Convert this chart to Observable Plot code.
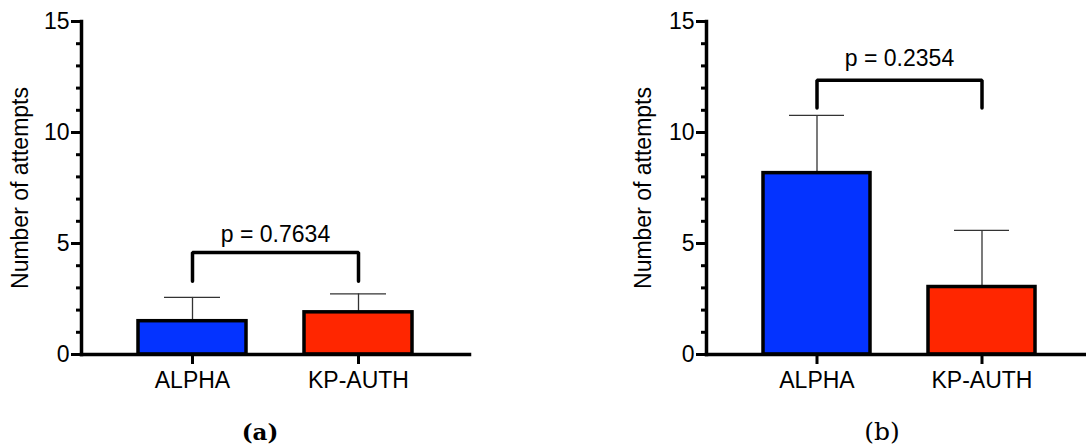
<!DOCTYPE html>
<html>
<head>
<meta charset="utf-8">
<script src="https://cdn.jsdelivr.net/npm/d3@7"></script>
<script src="https://cdn.jsdelivr.net/npm/@observablehq/plot@0.6"></script>
<style>
  html, body { margin: 0; padding: 0; background: #fff; width: 1086px; height: 448px; overflow: hidden; }
  #root { position: relative; width: 1086px; height: 448px; }
  .panel { position: absolute; top: 0; }
  .cap { position: absolute; color: #000; transform: translate(-50%, -50%); white-space: nowrap; line-height: 1; }
</style>
</head>
<body>
<div id="root"></div>
<script>
// ---- data ----
const categories = ["ALPHA", "KP-AUTH"];
const meansA = [1.5, 1.9];
const errorsA = [1.07, 0.83];
const meansB = [8.17, 3.04];
const errorsB = [2.6, 2.55];
const bracketTopA = 4.6, bracketLegA = 3.3, pTextYA = 5.38, pLabelA = "p = 0.7634";
const bracketTopB = 12.35, bracketLegB = 11.1, pTextYB = 13.32, pLabelB = "p = 0.2354";
const yMajorTicks = [0, 5, 10, 15];
const yMinorTicks = d3.range(0, 16);
const yLabel = "Number of attempts";
const colors = ["#0433FF", "#FF2600"];
const captions = ["(a)", "(b)"];

function makePanel(means, errors, bTop, bLeg, pY, pLabel, opts) {
  const rows = categories.map((c, i) => ({cat: c, mean: means[i], top: means[i] + errors[i], color: colors[i]}));
  const bracket = [
    {cat: categories[0], y: bLeg},
    {cat: categories[0], y: bTop},
    {cat: categories[1], y: bTop},
    {cat: categories[1], y: bLeg}
  ];
  return Plot.plot({
    width: opts.width,
    height: 400,
    marginLeft: opts.marginLeft,
    marginRight: opts.marginRight,
    marginTop: 21,
    marginBottom: 46,
    style: {fontFamily: "'Liberation Sans', Arial, sans-serif", fontSize: "23px", color: "#000", background: "transparent", overflow: "visible"},
    x: {domain: categories, paddingInner: 0.35, paddingOuter: 0.34},
    y: {domain: [0, 15]},
    marks: [
      Plot.ruleX(rows, {x: "cat", y1: "mean", y2: "top", stroke: "#333", strokeWidth: 1.3}),
      Plot.tickY(rows, {x: "cat", y: "top", stroke: "#333", strokeWidth: 1.3, insetLeft: 26, insetRight: 26}),
      Plot.barY(rows, {x: "cat", y: "mean", fill: "color", stroke: "#000", strokeWidth: 3.5}),
      Plot.line(bracket, {x: "cat", y: "y", stroke: "#000", strokeWidth: 3.5, strokeLinejoin: "miter", strokeLinecap: "round"}),
      Plot.text([pLabel], {y: () => pY, text: d => d, fontSize: 23, lineAnchor: "middle"}),
      Plot.axisY({ticks: yMinorTicks, tickSize: 5, strokeWidth: 3, tickFormat: () => "", label: null}),
      Plot.axisY({ticks: yMajorTicks, tickSize: 10, tickPadding: 2, strokeWidth: 3, tickFormat: d3.format("d"), label: yLabel, labelAnchor: "center", labelOffset: opts.labelOffset, labelArrow: "none"}),
      Plot.axisX({tickSize: 10, tickPadding: 7, strokeWidth: 3, label: null}),
      Plot.frame({anchor: "left", strokeWidth: 3.5}),
      Plot.frame({anchor: "bottom", strokeWidth: 3.5})
    ]
  });
}

const root = document.getElementById("root");
const pa = makePanel(meansA, errorsA, bracketTopA, bracketLegA, pTextYA, pLabelA, {width: 543, marginLeft: 81, marginRight: 74, labelOffset: 70});
pa.classList.add("panel"); pa.style.left = "0px";
root.appendChild(pa);
const pb = makePanel(meansB, errorsB, bracketTopB, bracketLegB, pTextYB, pLabelB, {width: 560, marginLeft: 163, marginRight: 11, labelOffset: 72});
pb.classList.add("panel"); pb.style.left = "543px";
root.appendChild(pb);

const capA = document.createElement("div");
capA.className = "cap"; capA.textContent = captions[0];
capA.style.left = "260px"; capA.style.top = "431px";
capA.style.fontFamily = "'DejaVu Serif', serif"; capA.style.fontWeight = "bold"; capA.style.fontSize = "23px";
root.appendChild(capA);
const capB = document.createElement("div");
capB.className = "cap"; capB.textContent = captions[1];
capB.style.left = "882px"; capB.style.top = "431px";
capB.style.fontFamily = "'DejaVu Serif', serif"; capB.style.fontSize = "25px";
root.appendChild(capB);
</script>
</body>
</html>
